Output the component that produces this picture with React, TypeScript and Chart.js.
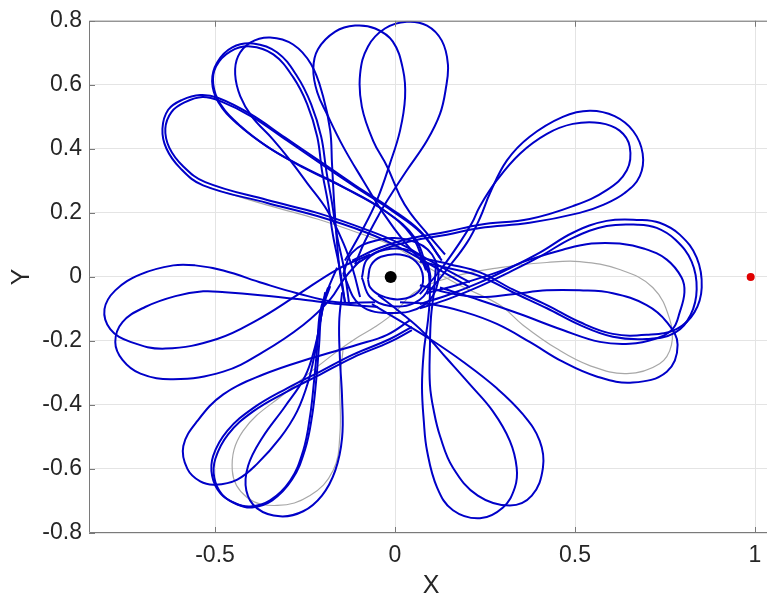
import { useEffect, useRef } from "react";
import { Chart, registerables } from "chart.js";

Chart.register(...registerables);

type Pt = [number, number];

// Axis ticks
const xTicks = [-0.5, 0, 0.5, 1];
const yTicks = [-0.8, -0.6, -0.4, -0.2, 0, 0.2, 0.4, 0.6, 0.8];

// Primary bodies (rotating frame)
const earth: Pt[] = [[-0.012, 0]];
const moon: Pt[] = [[0.988, 0]];

// Upper-left lobes
const lobeA1: Pt[] = [
  [0.208, -0.033], [0.097, 0.039], [0.014, 0.091], [-0.078, 0.138], [-0.216, 0.19],
  [-0.355, 0.231], [-0.533, 0.286], [-0.596, 0.339], [-0.635, 0.401], [-0.646, 0.463],
  [-0.63, 0.522], [-0.591, 0.553], [-0.541, 0.568], [-0.491, 0.559], [-0.402, 0.509],
  [-0.305, 0.435], [-0.208, 0.361], [-0.111, 0.286], [-0.014, 0.215], [0.069, 0.144],
  [0.125, 0.06],
];
const lobeA2: Pt[] = [
  [0.208, -0.017], [0.097, 0.051], [0.014, 0.104], [-0.078, 0.147], [-0.216, 0.2],
  [-0.355, 0.24], [-0.527, 0.296], [-0.588, 0.345], [-0.627, 0.404], [-0.638, 0.463],
  [-0.621, 0.515], [-0.583, 0.546], [-0.535, 0.562], [-0.485, 0.549], [-0.397, 0.5],
  [-0.3, 0.426], [-0.203, 0.351], [-0.105, 0.277], [-0.008, 0.206], [0.075, 0.135],
  [0.13, 0.051],
];

// Tall upper-left lobes
const lobeB1: Pt[] = [
  [-0.139, -0.079], [-0.153, 0.023], [-0.172, 0.128], [-0.186, 0.231], [-0.203, 0.333],
  [-0.216, 0.438], [-0.244, 0.54], [-0.283, 0.624], [-0.338, 0.695], [-0.402, 0.72],
  [-0.458, 0.704], [-0.497, 0.658], [-0.505, 0.602], [-0.485, 0.54], [-0.43, 0.472],
  [-0.347, 0.401], [-0.25, 0.339], [-0.139, 0.277], [-0.028, 0.206], [0.055, 0.122],
  [0.092, 0.014],
];
const lobeB2: Pt[] = [
  [-0.128, -0.079], [-0.141, 0.023], [-0.161, 0.128], [-0.175, 0.231], [-0.191, 0.333],
  [-0.205, 0.438], [-0.233, 0.54], [-0.272, 0.627], [-0.327, 0.701], [-0.394, 0.729],
  [-0.452, 0.717], [-0.494, 0.67], [-0.508, 0.611], [-0.491, 0.546], [-0.438, 0.478],
  [-0.355, 0.407], [-0.258, 0.345], [-0.147, 0.283], [-0.036, 0.212], [0.047, 0.128],
  [0.086, 0.02],
];
const lobeB3: Pt[] = [
  [-0.139, -0.079], [-0.153, 0.014], [-0.161, 0.107], [-0.169, 0.231], [-0.175, 0.354],
  [-0.18, 0.457], [-0.2, 0.565], [-0.233, 0.664], [-0.283, 0.726], [-0.347, 0.748],
  [-0.402, 0.732], [-0.436, 0.689], [-0.444, 0.633], [-0.43, 0.565], [-0.397, 0.5],
  [-0.341, 0.432], [-0.291, 0.364], [-0.244, 0.293], [-0.189, 0.209], [-0.144, 0.107],
  [-0.117, 0.023], [-0.097, -0.063],
];

// Top lobes
const lobeC1: Pt[] = [
  [-0.139, 0.051], [-0.092, 0.144], [-0.05, 0.24], [-0.014, 0.354], [0.014, 0.457],
  [0.028, 0.562], [0.022, 0.649], [-0.006, 0.735], [-0.055, 0.776], [-0.111, 0.785],
  [-0.166, 0.766], [-0.214, 0.711], [-0.227, 0.649], [-0.216, 0.577], [-0.189, 0.509],
  [-0.144, 0.407], [-0.089, 0.302], [-0.033, 0.2], [0.028, 0.107], [0.083, 0.039],
];
const lobeC2: Pt[] = [
  [0.139, 0.07], [0.083, 0.144], [0.042, 0.2], [0.014, 0.252], [-0.022, 0.345],
  [-0.061, 0.426], [-0.092, 0.531], [-0.097, 0.633], [-0.075, 0.72], [-0.028, 0.776],
  [0.033, 0.797], [0.089, 0.785], [0.13, 0.738], [0.147, 0.664], [0.141, 0.587],
  [0.125, 0.509], [0.089, 0.426], [0.033, 0.333], [-0.014, 0.252], [-0.042, 0.2],
  [-0.083, 0.113], [-0.111, 0.039],
];

// Upper-right lobes
const lobeD1: Pt[] = [
  [0.089, -0.054], [0.144, 0.023], [0.2, 0.107], [0.236, 0.184], [0.264, 0.262],
  [0.311, 0.364], [0.374, 0.438], [0.466, 0.5], [0.541, 0.519], [0.61, 0.502],
  [0.662, 0.455], [0.688, 0.385], [0.68, 0.315], [0.638, 0.262], [0.58, 0.226],
  [0.513, 0.2], [0.374, 0.169], [0.236, 0.153], [0.144, 0.132], [0.05, 0.113],
  [-0.042, 0.082], [-0.111, 0.039],
];
const lobeD2: Pt[] = [
  [0.069, -0.054], [0.125, 0.02], [0.18, 0.107], [0.214, 0.169], [0.236, 0.221],
  [0.283, 0.302], [0.347, 0.385], [0.422, 0.447], [0.494, 0.478], [0.569, 0.481],
  [0.624, 0.457], [0.652, 0.407], [0.644, 0.333], [0.588, 0.271], [0.494, 0.221],
  [0.374, 0.181], [0.236, 0.163], [0.144, 0.141], [0.05, 0.122], [-0.042, 0.091],
  [-0.119, 0.051],
];

// Right lobes
const lobeE1: Pt[] = [
  [0.069, 0.06], [0.153, 0.039], [0.236, 0.014], [0.327, -0.039], [0.422, -0.088],
  [0.513, -0.141], [0.605, -0.178], [0.699, -0.181], [0.782, -0.163], [0.832, -0.11],
  [0.852, -0.033], [0.838, 0.06], [0.791, 0.132], [0.735, 0.169], [0.68, 0.178],
  [0.588, 0.175], [0.494, 0.138], [0.402, 0.076], [0.311, 0.023], [0.236, -0.017],
  [0.153, -0.054], [0.069, -0.085],
];
const lobeE2: Pt[] = [
  [0.069, 0.048], [0.153, 0.026], [0.236, 0.002], [0.327, -0.048], [0.422, -0.098],
  [0.513, -0.15], [0.605, -0.187], [0.699, -0.194], [0.777, -0.175], [0.821, -0.119],
  [0.838, -0.039], [0.824, 0.048], [0.779, 0.116], [0.727, 0.153], [0.674, 0.163],
  [0.588, 0.159], [0.494, 0.122], [0.402, 0.063], [0.311, 0.011], [0.236, -0.029],
  [0.153, -0.067], [0.069, -0.098],
];
const lobeE3: Pt[] = [
  [0.097, -0.048], [0.18, -0.023], [0.283, 0.014], [0.374, 0.054], [0.466, 0.085],
  [0.546, 0.104], [0.624, 0.104], [0.693, 0.088], [0.755, 0.054], [0.796, -0.002],
  [0.804, -0.048], [0.791, -0.11], [0.771, -0.163], [0.721, -0.194], [0.652, -0.209],
  [0.569, -0.203], [0.466, -0.166], [0.347, -0.116], [0.236, -0.073], [0.125, -0.033],
];
const lobeE4: Pt[] = [
  [0.069, -0.026], [0.153, -0.051], [0.236, -0.063], [0.327, -0.054], [0.422, -0.042],
  [0.513, -0.042], [0.605, -0.051], [0.699, -0.088], [0.755, -0.141], [0.785, -0.212],
  [0.755, -0.296], [0.66, -0.33], [0.56, -0.311], [0.466, -0.265], [0.374, -0.203],
  [0.283, -0.147], [0.194, -0.11], [0.097, -0.085], [0.014, -0.079],
];

// Lower lobes
const lobeF1: Pt[] = [
  [0.092, 0.039], [0.097, -0.048], [0.092, -0.132], [0.08, -0.234], [0.075, -0.342],
  [0.08, -0.45], [0.089, -0.543], [0.117, -0.658], [0.161, -0.729], [0.236, -0.754],
  [0.3, -0.72], [0.333, -0.658], [0.338, -0.596], [0.319, -0.512], [0.272, -0.42],
  [0.208, -0.336], [0.144, -0.255], [0.078, -0.172], [0.014, -0.11], [-0.047, -0.057],
];
const lobeF2: Pt[] = [
  [0.114, 0.039], [0.108, -0.048], [0.1, -0.125], [0.097, -0.218], [0.097, -0.336],
  [0.108, -0.42], [0.125, -0.497], [0.161, -0.596], [0.23, -0.683], [0.319, -0.714],
  [0.38, -0.683], [0.411, -0.596], [0.402, -0.512], [0.355, -0.429], [0.283, -0.348],
  [0.189, -0.265], [0.097, -0.194], [0.006, -0.132], [-0.064, -0.085],
];

// Lower-left lobes
const lobeG1: Pt[] = [
  [0.042, -0.135], [-0.022, -0.181], [-0.105, -0.212], [-0.236, -0.255], [-0.366, -0.305],
  [-0.477, -0.367], [-0.549, -0.45], [-0.588, -0.528], [-0.577, -0.599], [-0.541, -0.639],
  [-0.499, -0.649], [-0.438, -0.633], [-0.383, -0.584], [-0.319, -0.503], [-0.272, -0.42],
  [-0.241, -0.327], [-0.222, -0.234], [-0.208, -0.141], [-0.189, -0.048], [-0.161, 0.029],
];
const lobeG2: Pt[] = [
  [0.047, -0.156], [-0.014, -0.194], [-0.117, -0.243], [-0.208, -0.296], [-0.3, -0.348],
  [-0.394, -0.41], [-0.466, -0.481], [-0.505, -0.559], [-0.508, -0.621], [-0.485, -0.676],
  [-0.444, -0.707], [-0.402, -0.717], [-0.347, -0.698], [-0.291, -0.636], [-0.255, -0.543],
  [-0.236, -0.435], [-0.225, -0.327], [-0.216, -0.218], [-0.208, -0.11], [-0.186, -0.033],
];
const lobeG3: Pt[] = [
  [0.047, -0.166], [-0.014, -0.203], [-0.117, -0.252], [-0.208, -0.305], [-0.3, -0.358],
  [-0.394, -0.42], [-0.463, -0.491], [-0.499, -0.568], [-0.502, -0.627], [-0.48, -0.68],
  [-0.438, -0.711], [-0.397, -0.72], [-0.341, -0.698], [-0.286, -0.633], [-0.25, -0.54],
  [-0.23, -0.432], [-0.219, -0.324], [-0.211, -0.215], [-0.203, -0.107], [-0.18, -0.029],
];
const lobeG4: Pt[] = [
  [-0.194, -0.048], [-0.208, -0.141], [-0.222, -0.218], [-0.25, -0.311], [-0.305, -0.404],
  [-0.369, -0.503], [-0.408, -0.59], [-0.413, -0.667], [-0.383, -0.723], [-0.319, -0.748],
  [-0.255, -0.732], [-0.203, -0.683], [-0.166, -0.605], [-0.147, -0.503], [-0.147, -0.379],
  [-0.153, -0.255], [-0.155, -0.141], [-0.147, -0.048],
];

// Left lobes
const lobeH1: Pt[] = [
  [-0.055, -0.079], [-0.161, -0.079], [-0.272, -0.051], [-0.366, -0.02], [-0.477, 0.02],
  [-0.555, 0.036], [-0.616, 0.036], [-0.707, 0.008], [-0.777, -0.042], [-0.807, -0.101],
  [-0.791, -0.163], [-0.735, -0.203], [-0.638, -0.224], [-0.494, -0.194], [-0.383, -0.135],
  [-0.272, -0.057], [-0.161, 0.023], [-0.069, 0.07],
];
const lobeH2: Pt[] = [
  [-0.047, -0.094], [-0.153, -0.085], [-0.264, -0.07], [-0.374, -0.057], [-0.472, -0.048],
  [-0.533, -0.045], [-0.61, -0.06], [-0.694, -0.094], [-0.757, -0.141], [-0.777, -0.203],
  [-0.757, -0.259], [-0.707, -0.302], [-0.616, -0.32], [-0.477, -0.296], [-0.366, -0.234],
  [-0.255, -0.15], [-0.18, -0.07], [-0.139, -0.002], [-0.097, 0.051],
];

// Close passes around the Earth
const perigee1: Pt[] = [
  [-0.075, -0.008], [-0.067, 0.036], [-0.039, 0.063], [0.014, 0.07], [0.058, 0.048],
  [0.078, -0.002], [0.064, -0.048], [0.014, -0.07], [-0.042, -0.057], [-0.069, -0.033],
  [-0.075, -0.008],
];
const perigee2: Pt[] = [
  [-0.092, -0.002], [-0.078, 0.054], [-0.028, 0.085], [0.042, 0.082], [0.089, 0.039],
  [0.094, -0.033], [0.053, -0.082], [-0.014, -0.091], [-0.069, -0.063], [-0.092, -0.002],
];
const perigee3: Pt[] = [
  [-0.144, 0.008], [-0.119, 0.076], [-0.055, 0.113], [0.036, 0.116], [0.103, 0.07],
  [0.119, -0.017], [0.08, -0.088], [-0.008, -0.113], [-0.097, -0.088], [-0.144, 0.008],
];

// Earlier revolution, shown in grey
const greyArc: Pt[] = [
  [-0.519, 0.28], [-0.355, 0.224], [-0.216, 0.181], [-0.078, 0.128], [0, 0.094],
  [0.078, 0.039], [0.18, -0.026], [0.291, -0.088], [0.355, -0.15], [0.449, -0.224],
  [0.541, -0.277], [0.644, -0.302], [0.735, -0.271], [0.768, -0.212], [0.763, -0.132],
  [0.716, -0.033], [0.624, 0.023], [0.513, 0.048], [0.422, 0.045], [0.291, 0.029],
  [0.153, -0.002], [0.055, -0.048], [0, -0.11], [-0.055, -0.156], [-0.111, -0.194],
  [-0.18, -0.249], [-0.3, -0.358], [-0.422, -0.481], [-0.452, -0.605], [-0.411, -0.689],
  [-0.327, -0.714], [-0.236, -0.683], [-0.172, -0.605], [-0.153, -0.491], [-0.153, -0.327],
  [-0.144, -0.224],
];

const blueLobes: Pt[][] = [
  lobeA1, lobeA2, lobeB1, lobeB2, lobeB3, lobeC1, lobeC2, lobeD1, lobeD2,
  lobeE1, lobeE2, lobeE3, lobeE4, lobeF1, lobeF2, lobeG1, lobeG2, lobeG3, lobeG4,
  lobeH1, lobeH2, perigee1, perigee2, perigee3,
];

const TRACK_BLUE = "#0000c8";
const TEXT = "#262626";
const FONT = "'Liberation Sans', Arial, Helvetica, sans-serif";

const toXY = (pts: Pt[]) => pts.map(([x, y]) => ({ x, y }));

const fmt = (v: number) => String(Number(v.toFixed(2)));

// Box around the axes with inward tick marks
const axesBox = {
  id: "axesBox",
  afterDatasetsDraw(chart: any) {
    const { ctx, chartArea, scales } = chart;
    const { left, right, top, bottom } = chartArea;
    const len = 6;
    ctx.save();
    ctx.strokeStyle = "#7a7a7a";
    ctx.lineWidth = 1;
    ctx.beginPath();
    ctx.rect(left + 0.5, top + 0.5, right - left - 1, bottom - top - 1);
    for (const v of xTicks) {
      const px = Math.round(scales.x.getPixelForValue(v)) + 0.5;
      ctx.moveTo(px, bottom);
      ctx.lineTo(px, bottom - len);
      ctx.moveTo(px, top);
      ctx.lineTo(px, top + len);
    }
    for (const v of yTicks) {
      const py = Math.round(scales.y.getPixelForValue(v)) + 0.5;
      ctx.moveTo(left, py);
      ctx.lineTo(left + len, py);
      ctx.moveTo(right, py);
      ctx.lineTo(right - len, py);
    }
    ctx.stroke();
    ctx.restore();
  },
};

export default function App() {
  const canvasRef = useRef<HTMLCanvasElement | null>(null);

  useEffect(() => {
    const canvas = canvasRef.current;
    if (!canvas) return;

    const datasets: any[] = [
      {
        data: toXY(greyArc),
        showLine: true,
        borderColor: "#a8a8a8",
        borderWidth: 1.2,
        pointRadius: 0,
        tension: 0.4,
        order: 3,
      },
      ...blueLobes.map((lobe) => ({
        data: toXY(lobe),
        showLine: true,
        borderColor: TRACK_BLUE,
        borderWidth: 2,
        pointRadius: 0,
        tension: 0.4,
        order: 2,
      })),
      {
        data: toXY(earth),
        pointRadius: 6,
        pointBackgroundColor: "#000000",
        pointBorderWidth: 0,
        order: 1,
      },
      {
        data: toXY(moon),
        pointRadius: 4,
        pointBackgroundColor: "#e00000",
        pointBorderWidth: 0,
        order: 1,
      },
    ];

    const chart = new Chart(canvas, {
      type: "scatter",
      data: { datasets },
      options: {
        animation: false,
        responsive: false,
        events: [],
        layout: { padding: { top: 16, right: 17, left: 0, bottom: 0 } },
        plugins: { legend: { display: false }, tooltip: { enabled: false } },
        scales: {
          x: {
            type: "linear",
            min: -0.85,
            max: 1.05,
            afterBuildTicks: (scale: any) => {
              scale.ticks = xTicks.map((value) => ({ value }));
            },
            afterFit: (scale: any) => {
              scale.height = 70;
            },
            grid: { color: "#e4e4e4", drawTicks: false, lineWidth: 1 },
            border: { display: false },
            ticks: {
              padding: 9,
              color: TEXT,
              font: { family: FONT, size: 23 },
              maxRotation: 0,
              callback: (v: any) => fmt(Number(v)),
            },
            title: {
              display: true,
              text: "X",
              color: TEXT,
              font: { family: FONT, size: 25 },
              padding: { top: 0, bottom: 2 },
            },
          },
          y: {
            type: "linear",
            min: -0.8,
            max: 0.8,
            afterBuildTicks: (scale: any) => {
              scale.ticks = yTicks.map((value) => ({ value }));
            },
            afterFit: (scale: any) => {
              scale.width = 89;
            },
            grid: { color: "#e4e4e4", drawTicks: false, lineWidth: 1 },
            border: { display: false },
            ticks: {
              padding: 7,
              color: TEXT,
              font: { family: FONT, size: 23 },
              callback: (v: any) => fmt(Number(v)),
            },
            title: {
              display: true,
              text: "Y",
              color: TEXT,
              font: { family: FONT, size: 25 },
              padding: { top: 7, bottom: 0 },
            },
          },
        },
      },
      plugins: [axesBox],
    });

    return () => chart.destroy();
  }, []);

  return (
    <div
      style={{
        position: "fixed",
        left: 0,
        top: 0,
        width: 767,
        height: 603,
        overflow: "hidden",
        background: "#ffffff",
      }}
    >
      <canvas ref={canvasRef} width={790} height={603} style={{ display: "block" }} />
    </div>
  );
}
